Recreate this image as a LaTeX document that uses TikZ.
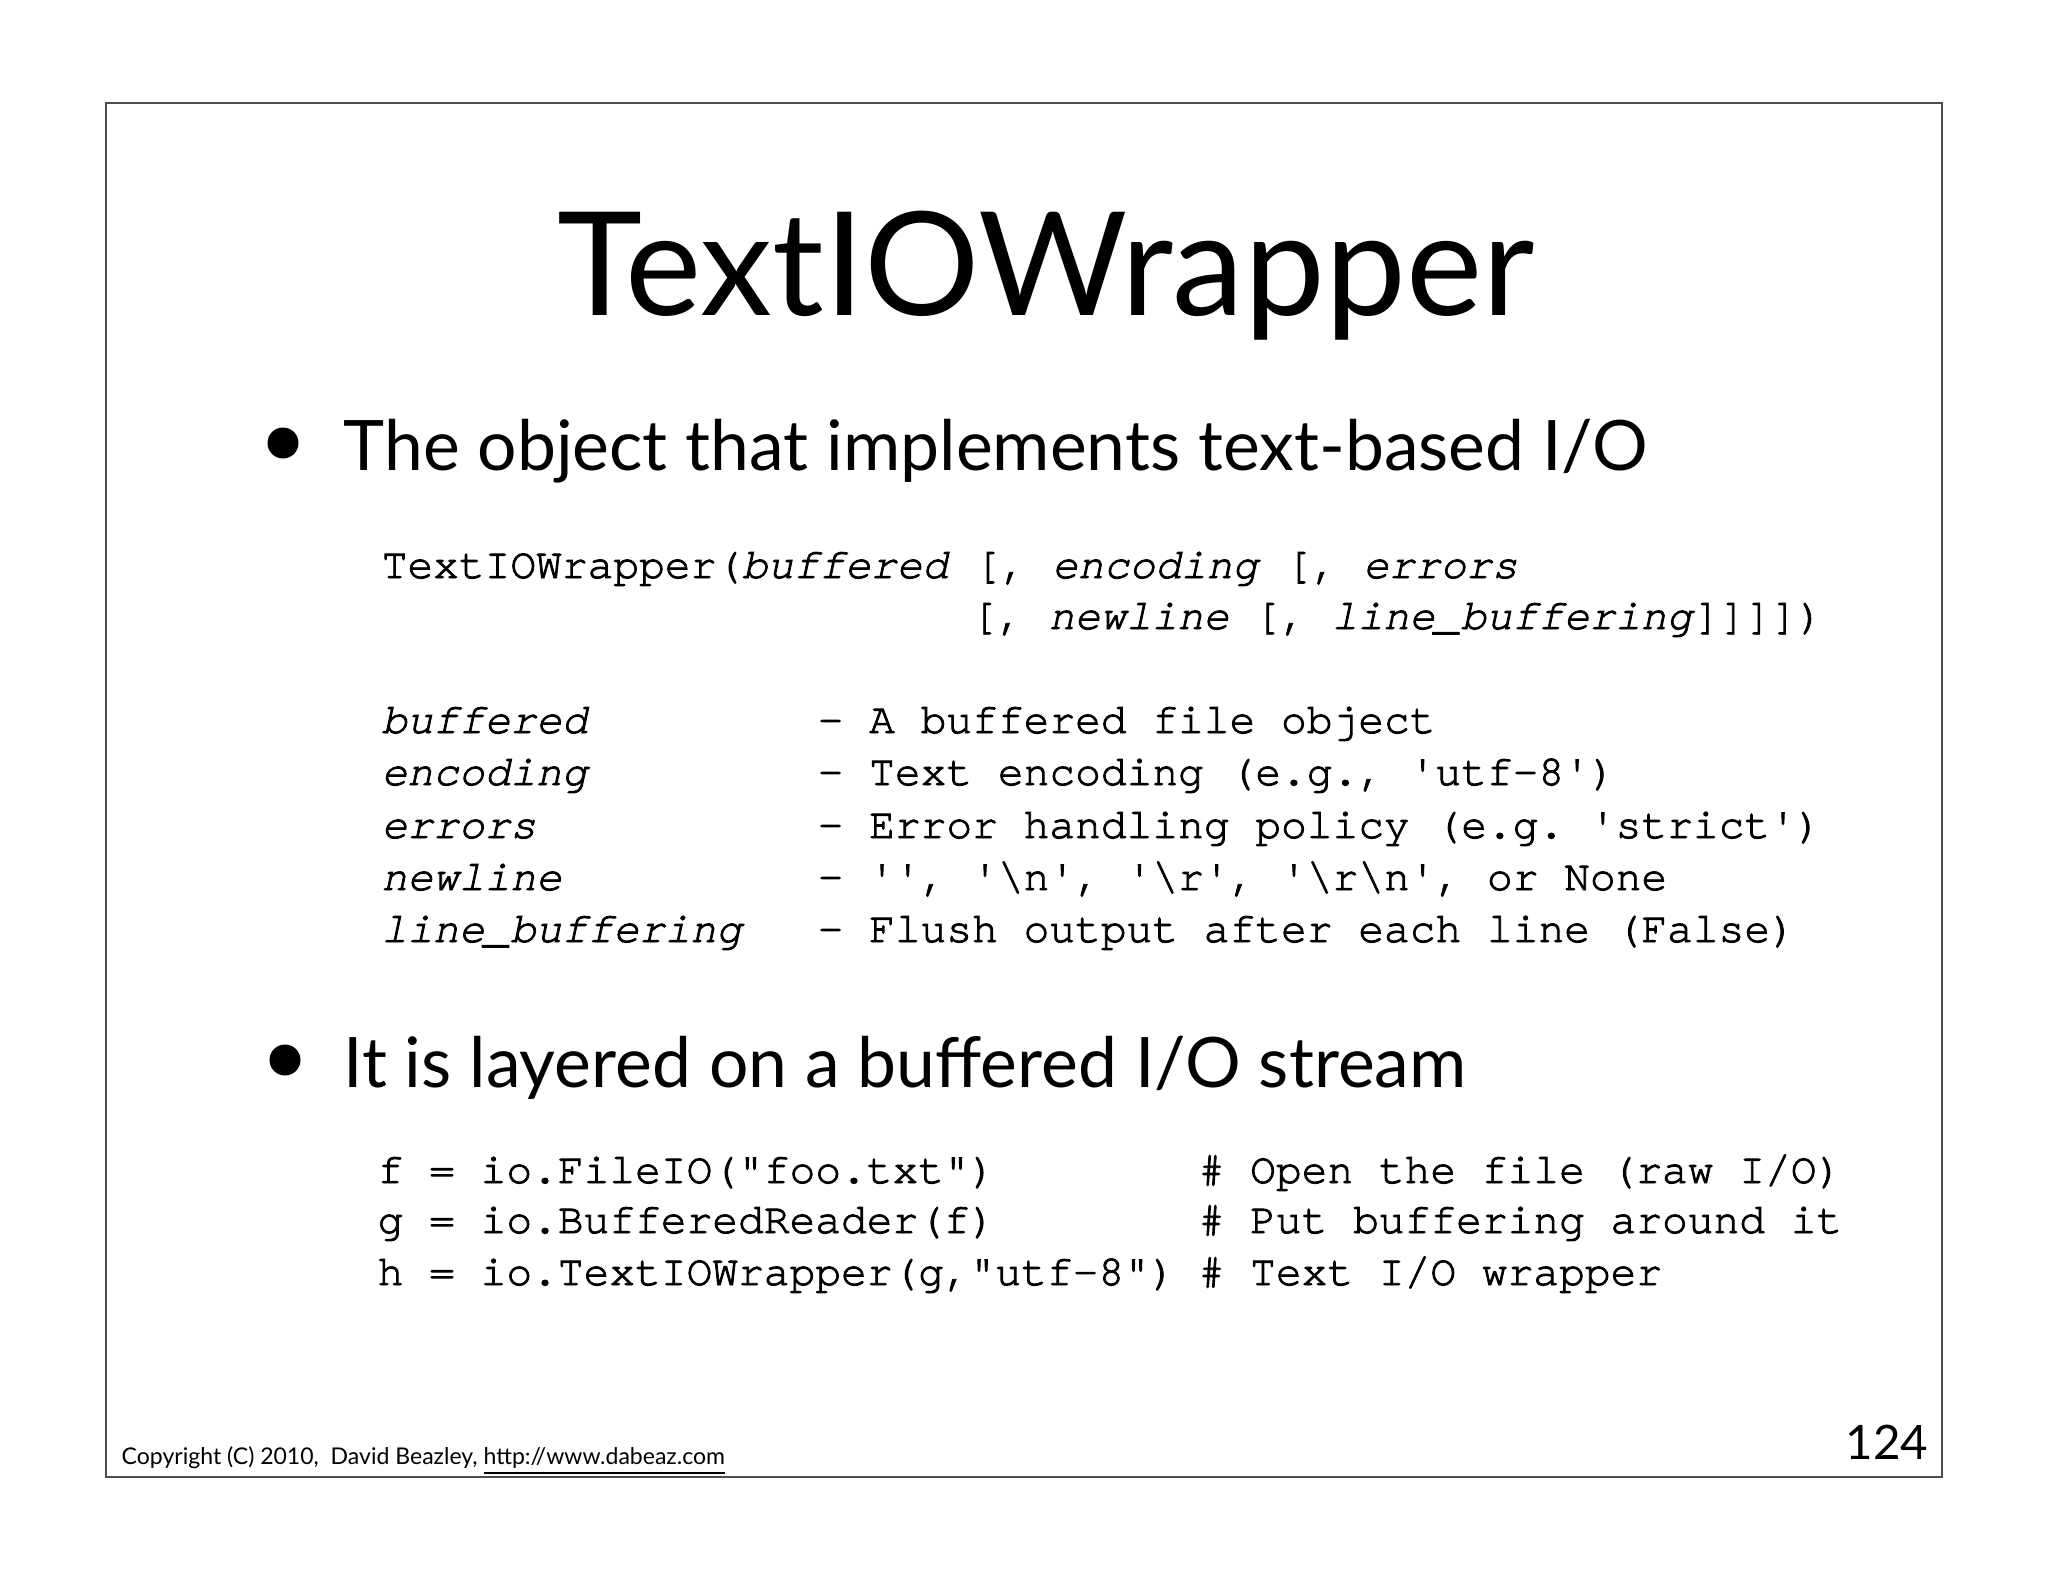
\documentclass[tikz,border=0pt]{standalone}
\usepackage{fontspec}
\setmainfont{Lato}
\setmonofont{texgyrecursor}[Extension=.otf,UprightFont=*-regular,ItalicFont=*-italic,SlantedFont=*-italic,Ligatures={NoCommon,NoRequired},Kerning=Off,FakeBold=2]
\tikzset{
	slide/.style={inner sep=0pt,anchor=base west},
	code/.style={slide,font=\ttfamily\fontsize{12.2pt}{14pt}\selectfont},
	point/.style={slide,font=\fontsize{19.8pt}{24pt}\selectfont}
}
\newcommand{\param}[1]{\textit{#1}}
\newcommand{\bs}{\textbackslash}
\begin{document}
\begin{tikzpicture}[x=0.01cm,y=-0.01cm]
	\useasboundingbox (0,0) rectangle (2048,1582);
	\draw[black!70,line width=0.35pt] (106,103) rectangle (1942,1477);
	\node[inner sep=0pt,anchor=base,font=\fontsize{41pt}{45pt}\selectfont] (title) at (1046,315) {TextIOWrapper};
	% first point
	\fill (283,443) circle (15.5);
	\node[point] (obj) at (343,470) {The object that implements text-based I/O};
	\node[code] (sig1) at (381,578) {TextIOWrapper(\param{buffered} [, \param{encoding} [, \param{errors}};
	\node[code] (sig2) at (971,629) {[, \param{newline} [, \param{line\_buffering}]]]])};
	\node[code] (a1) at (381,733) {\param{buffered}};
	\node[code] (a2) at (381,785) {\param{encoding}};
	\node[code] (a3) at (381,838) {\param{errors}};
	\node[code] (a4) at (381,890) {\param{newline}};
	\node[code] (a5) at (381,942) {\param{line\_buffering}};
	\node[code] (d1) at (817,733) {- A buffered file object};
	\node[code] (d2) at (817,785) {- Text encoding (e.g., 'utf-8')};
	\node[code] (d3) at (817,838) {- Error handling policy (e.g. 'strict')};
	\node[code] (d4) at (817,890) {- '', '\bs n', '\bs r', '\bs r\bs n', or None};
	\node[code] (d5) at (817,942) {- Flush output after each line (False)};
	% second point
	\fill (285,1060) circle (15.5);
	\node[point] (layer) at (343,1087) {It is layered on a buffered I/O stream};
	\node[code] (f) at (377,1183) {f = io.FileIO("foo.txt")};
	\node[code] (g) at (377,1233) {g = io.BufferedReader(f)};
	\node[code] (h) at (377,1285) {h = io.TextIOWrapper(g,"utf-8")};
	\node[code] (cf) at (1198,1183) {\# Open the file (raw I/O)};
	\node[code] (cg) at (1198,1233) {\# Put buffering around it};
	\node[code] (ch) at (1198,1285) {\# Text I/O wrapper};
	% footer
	\node[slide,font=\fontsize{6.55pt}{8pt}\selectfont] (copy) at (121,1464) {Copyright (C) 2010,\ \ David Beazley, \underline{http://www.dabeaz.com}};
	\node[inner sep=0pt,anchor=base east,font=\fontsize{13.5pt}{16pt}\selectfont] (page) at (1929,1459) {124};
\end{tikzpicture}
\end{document}
